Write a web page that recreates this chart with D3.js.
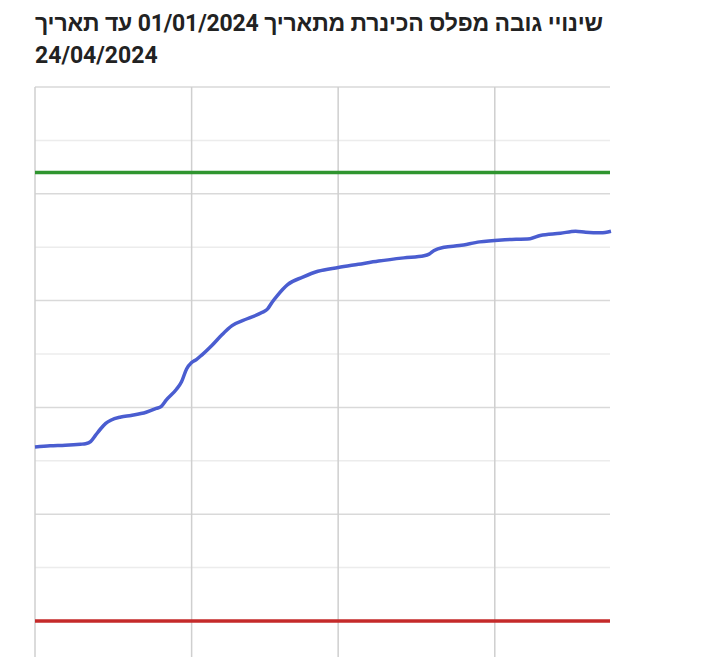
<!DOCTYPE html>
<html>
<head>
<meta charset="utf-8">
<script src="https://cdn.jsdelivr.net/npm/d3@7"></script>
<style>
  body { margin: 0; background: #fff; overflow: hidden; }
  svg { display: block; }
</style>
</head>
<body>
<svg id="chart" width="720" height="657"></svg>
<script>
// Kinneret level data (m)
let dates = ["2024-01-01","2024-01-04","2024-01-07","2024-01-10","2024-01-11","2024-01-12","2024-01-13","2024-01-14",
  "2024-01-15","2024-01-16","2024-01-18","2024-01-20","2024-01-23","2024-01-25","2024-01-26","2024-01-27","2024-01-29",
  "2024-01-30","2024-01-31","2024-02-01","2024-02-02","2024-02-03","2024-02-05","2024-02-07","2024-02-09","2024-02-12",
  "2024-02-15","2024-02-16","2024-02-17","2024-02-18","2024-02-20","2024-02-23","2024-02-26","2024-03-01","2024-03-05",
  "2024-03-09","2024-03-14","2024-03-18","2024-03-19","2024-03-20","2024-03-22","2024-03-25","2024-03-29","2024-04-03",
  "2024-04-08","2024-04-10","2024-04-14","2024-04-17","2024-04-19","2024-04-22","2024-04-24"];
let levels = [-211.37,-211.36,-211.355,-211.345,-211.34,-211.32,-211.26,-211.20,
  -211.15,-211.12,-211.09,-211.075,-211.045,-211.01,-210.99,-210.93,-210.83,
  -210.76,-210.64,-210.58,-210.55,-210.51,-210.42,-210.32,-210.235,-210.17,
  -210.11,-210.08,-210.01,-209.95,-209.85,-209.78,-209.725,-209.69,-209.66,
  -209.63,-209.60,-209.58,-209.565,-209.53,-209.50,-209.485,-209.45,-209.43,
  -209.42,-209.39,-209.37,-209.35,-209.36,-209.365,-209.35];
// red lines of the lake
let upperRedLine = -208.8;
let lowerRedLine = -213;
let yTicks = [-213, -212.5, -212, -211.5, -211, -210.5, -210, -209.5, -209, -208.5, -208];
let xTicks = ["2024-01-01", "2024-02-01", "2024-03-01", "2024-04-01"];
let titleLines = ["שינויי גובה מפלס הכינרת מתאריך 01/01/2024 עד תאריך", "24/04/2024"];

const parse = d3.timeParse("%Y-%m-%d");
const data = dates.map((d, i) => ({date: parse(d), level: levels[i]}));

const svg = d3.select("#chart");
const margin = {top: 87, left: 35, right: 110};
const plotRight = 720 - margin.right;

const xScale = d3.scaleTime()
  .domain([parse(dates[0]), parse(dates[dates.length - 1])])
  .range([margin.left, plotRight + 1]);

const yScale = d3.scaleLinear()
  .domain([-213, -208])
  .range([621, margin.top]);

// title
let title = svg.append("g").selectAll("text").data(titleLines)
  .enter().append("text")
    .attr("x", (d, i) => i == 0 ? 603 : 35)
    .attr("y", (d, i) => 31 + i * 32)
    .attr("direction", (d, i) => i == 0 ? "rtl" : "ltr")
    .attr("text-anchor", "start")
    .attr("font-family", "Roboto, 'Liberation Sans', 'DejaVu Sans', sans-serif")
    .attr("font-size", "23px")
    .attr("font-weight", 700)
    .attr("fill", "#222")
    .text(d => d);
title.filter((d, i) => i == 0)
  .attr("textLength", 568)
  .attr("lengthAdjust", "spacing");

// horizontal grid
svg.append("g").selectAll("line").data(yTicks)
  .enter().append("line")
    .attr("x1", margin.left)
    .attr("x2", plotRight)
    .attr("y1", d => yScale(d))
    .attr("y2", d => yScale(d))
    .attr("stroke", d => Number.isInteger(d) ? "#d9d9d9" : "#ececec")
    .attr("stroke-width", 1.5);

// vertical grid
svg.append("g").selectAll("line").data(xTicks)
  .enter().append("line")
    .attr("x1", d => xScale(parse(d)))
    .attr("x2", d => xScale(parse(d)))
    .attr("y1", yScale(-208))
    .attr("y2", 657)
    .attr("stroke", "#cfcfcf")
    .attr("stroke-width", 1.5);

// red lines
svg.append("line")
  .attr("x1", margin.left).attr("x2", plotRight)
  .attr("y1", yScale(upperRedLine)).attr("y2", yScale(upperRedLine))
  .attr("stroke", "#2f952f").attr("stroke-width", 3.5);

svg.append("line")
  .attr("x1", margin.left).attr("x2", plotRight)
  .attr("y1", yScale(lowerRedLine)).attr("y2", yScale(lowerRedLine))
  .attr("stroke", "#c52a2a").attr("stroke-width", 3.5);

// level line
const line = d3.line()
  .x(d => xScale(d.date))
  .y(d => yScale(d.level))
  .curve(d3.curveMonotoneX);

svg.append("path")
  .datum(data)
  .attr("fill", "none")
  .attr("stroke", "#4a5dd0")
  .attr("stroke-width", 3.5)
  .attr("stroke-linejoin", "round")
  .attr("d", line);
</script>
</body>
</html>
